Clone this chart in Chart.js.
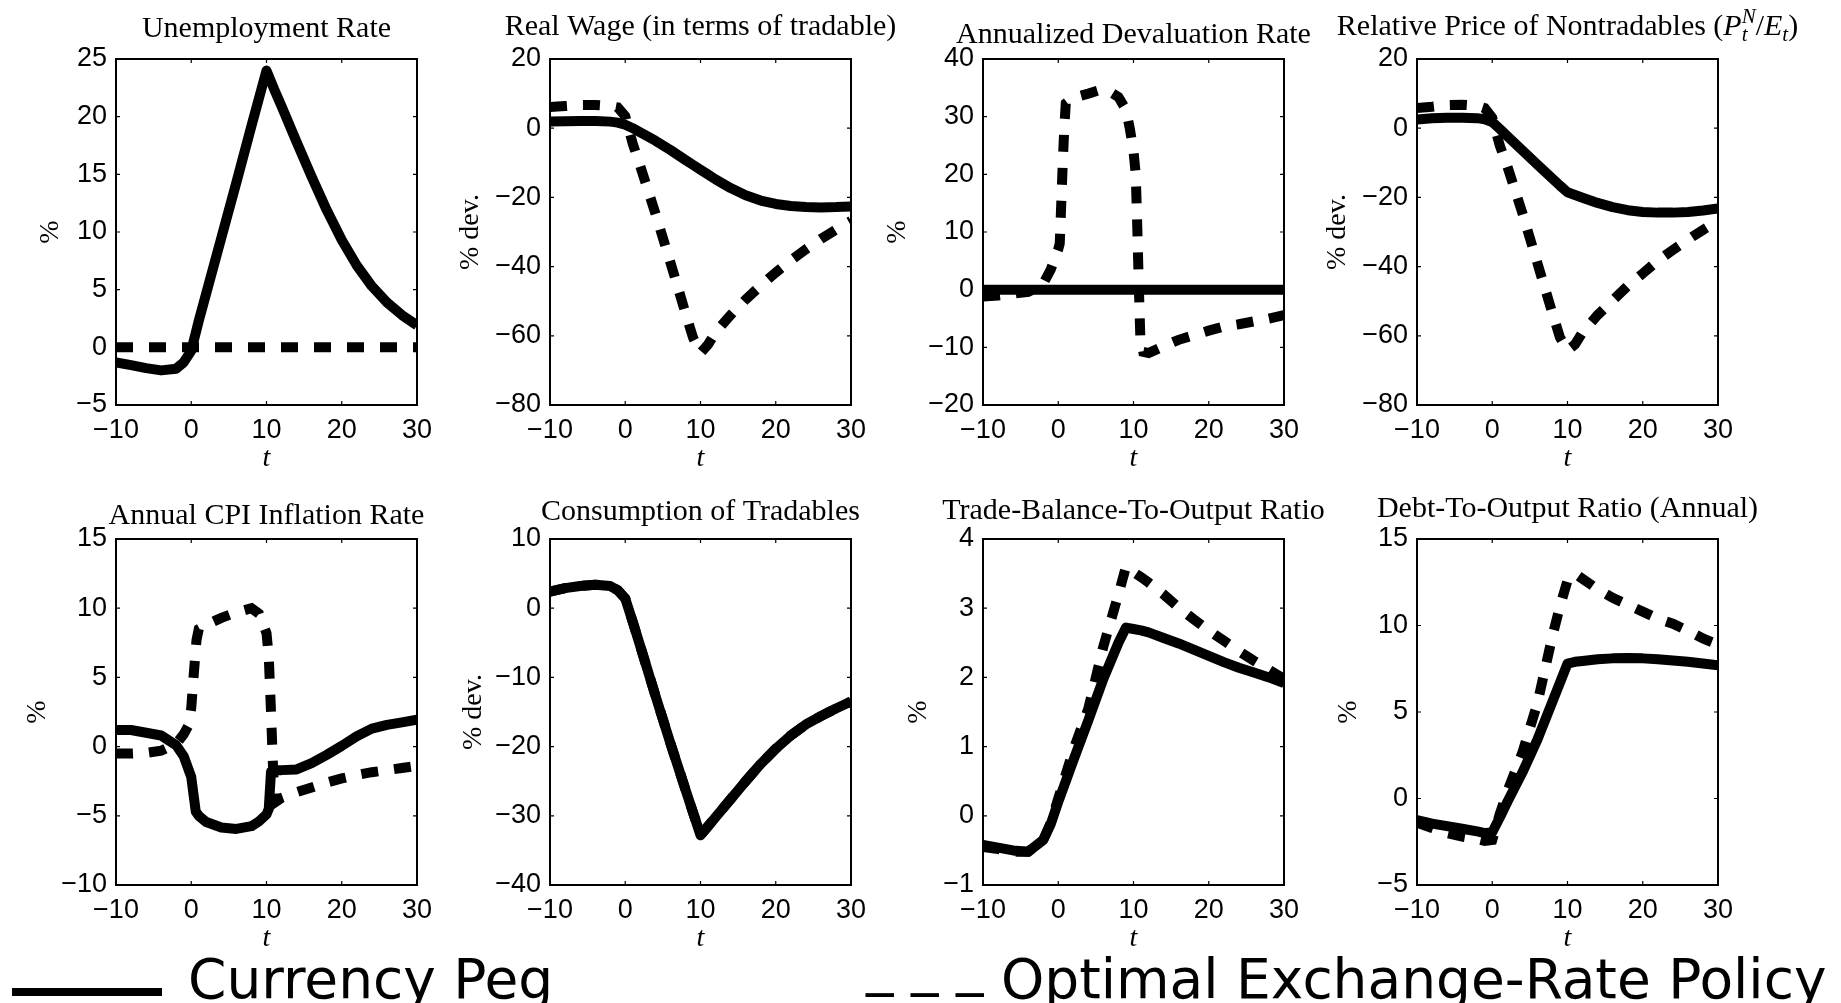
<!DOCTYPE html>
<html>
<head>
<meta charset="utf-8">
<script src="https://cdn.jsdelivr.net/npm/chart.js@4.4.1/dist/chart.umd.min.js"></script>
<style>
html, body { margin: 0; padding: 0; background: #fff; width: 1841px; height: 1003px; overflow: hidden; }
.panel { position: absolute; }
.legend { position: absolute; font-family: "DejaVu Sans"; font-size: 55px; line-height: 54px; color: #000; white-space: nowrap; }
</style>
</head>
<body>

<div style="position:absolute;left:12px;top:988px;width:150px;height:8px;background:#000;"></div>
<div class="legend" style="left:188px;top:952px;">Currency Peg</div>
<div class="legend" style="left:866px;top:952px;"><span style="position:relative;top:-14px;">_ _ _</span> Optimal Exchange-Rate Policy</div>

<script>
// quarters since the shock
var tQ = [-10, -8, -6, -4, -2, -1, 0, 1, 2, 4, 6, 8, 9, 10, 11, 12, 14, 16, 18, 20, 22, 24, 26, 28, 30];

var unempPeg = [-1.3, -1.55, -1.8, -2.0, -1.85, -1.3, -0.3, 2.3, 4.7, 9.5, 14.3, 19.2, 21.6, 24.0, 22.4, 20.9, 17.8, 14.8, 11.9, 9.3, 7.1, 5.3, 3.9, 2.8, 1.9];
var unempOpt = [0, 0, 0, 0, 0, 0, 0, 0, 0, 0, 0, 0, 0, 0, 0, 0, 0, 0, 0, 0, 0, 0, 0, 0, 0];

var wagePeg = [1.9, 2.0, 2.1, 2.1, 1.9, 1.6, 1.0, 0.0, -1.2, -3.6, -6.3, -9.2, -10.6, -12.0, -13.4, -14.8, -17.3, -19.4, -20.9, -21.9, -22.5, -22.8, -22.9, -22.8, -22.6];
var wageOpt = [6.1, 6.4, 6.7, 6.7, 6.4, 6.0, 3.5, -4.5, -11, -24.6, -38.8, -53.4, -60.5, -65, -62.5, -59, -54, -49.5, -45.5, -41.7, -38.2, -35, -32, -29.3, -26.8];

var devalPeg = [0, 0, 0, 0, 0, 0, 0, 0, 0, 0, 0, 0, 0, 0, 0, 0, 0, 0, 0, 0, 0, 0, 0, 0, 0];
var devalOptT = [-10, -8, -6, -4, -2, -1, 0, 0.2, 0.4, 0.6, 0.8, 1, 2, 4, 5.5, 7, 8, 9, 9.5, 10, 10.3, 10.5, 10.7, 10.9, 11.3, 12, 14, 16, 18, 20, 22, 24, 26, 28, 30];
var devalOpt = [-1.2, -1.0, -0.7, -0.4, 1.0, 3.5, 7.0, 8.0, 15, 22, 28, 32.3, 33.3, 34.0, 34.6, 34.2, 33.4, 31.2, 28, 24, 20, 11, 1, -8, -10.8, -11.0, -9.8, -8.7, -7.9, -7.1, -6.4, -6.0, -5.5, -5.0, -4.4];

var priceNPeg = [2.5, 2.9, 3.0, 3.0, 2.9, 2.6, 1.8, -0.2, -2.3, -6.4, -10.5, -14.6, -16.6, -18.5, -19.3, -20.1, -21.6, -22.8, -23.7, -24.2, -24.4, -24.4, -24.2, -23.8, -23.2];
var priceNOpt = [5.8, 6.2, 6.7, 6.8, 6.5, 5.8, 3.0, -5.0, -11.0, -24.5, -39, -53.5, -60.5, -64.2, -62.5, -59, -54, -49.8, -45.6, -42, -38.3, -35.2, -32.2, -29.4, -26.8];

var cpiPegT = [-10, -8, -6, -4, -2, -1, 0, 0.6, 1, 2, 4, 6, 8, 9, 10, 10.3, 10.6, 11, 12, 14, 16, 18, 20, 22, 24, 26, 28, 30];
var cpiPeg = [1.2, 1.2, 1.0, 0.8, 0.1, -0.7, -2.2, -4.7, -5.0, -5.45, -5.85, -5.95, -5.75, -5.4, -4.9, -4.5, -1.8, -1.7, -1.7, -1.65, -1.2, -0.6, 0.05, 0.75, 1.3, 1.57, 1.75, 1.95];
var cpiOptT = [-10, -8, -6, -4, -2, -1, -0.3, 0, 0.3, 0.7, 1, 2, 4, 6, 8, 9, 10, 10.3, 10.6, 10.9, 11.2, 12, 14, 16, 18, 20, 22, 24, 26, 28, 30];
var cpiOpt = [-0.5, -0.5, -0.45, -0.3, 0.2, 0.9, 1.6, 2.8, 5.0, 7.7, 8.5, 8.8, 9.3, 9.7, 10.0, 9.6, 8.2, 6.5, 2.5, -2.0, -4.0, -3.7, -3.3, -2.95, -2.6, -2.3, -2.05, -1.85, -1.7, -1.55, -1.4];

var consT = [2.4, 2.9, 3.2, 3.4, 3.2, 2.6, 1.4, -2.0, -5.5, -12.6, -19.5, -26.2, -29.5, -32.8, -31.5, -30.2, -27.6, -25.0, -22.5, -20.3, -18.4, -16.8, -15.6, -14.5, -13.5];

var tbPeg = [-0.42, -0.46, -0.5, -0.52, -0.35, -0.12, 0.2, 0.5, 0.8, 1.38, 1.98, 2.5, 2.72, 2.7, 2.68, 2.65, 2.57, 2.49, 2.4, 2.31, 2.22, 2.14, 2.07, 2.0, 1.92];
var tbOpt = [-0.45, -0.48, -0.52, -0.52, -0.35, -0.1, 0.25, 0.6, 0.95, 1.55, 2.45, 3.2, 3.6, 3.52, 3.45, 3.37, 3.2, 3.01, 2.84, 2.68, 2.53, 2.38, 2.24, 2.11, 1.98];

var debtPeg = [-1.25, -1.45, -1.6, -1.75, -1.9, -2.0, -1.95, -1.1, -0.2, 1.5, 3.4, 5.6, 6.7, 7.8, 7.9, 7.95, 8.05, 8.1, 8.12, 8.1, 8.05, 7.98, 7.9, 7.8, 7.7];
var debtOpt = [-1.4, -1.7, -2.0, -2.2, -2.35, -2.45, -2.4, -0.9, 0.4, 2.65, 5.5, 9.4, 11.1, 12.6, 13.0, 12.7, 12.1, 11.6, 11.2, 10.8, 10.4, 10.1, 9.7, 9.25, 8.9];

var COLS = [116, 550, 983, 1417];
var ROWS = [59, 539];
var PW = 301, PH = 346;
var PAD_T = 60, XH = 70;
var LW = 10;
var TITLE_SIZE = 30;

function fmt(v) { return String(v).replace('-', '\u2212'); }

// MATLAB style box with inward ticks on all four sides
var boxTicks = {
    id: 'boxTicks',
    beforeDatasetsDraw: function(chart){
        var ctx = chart.ctx, a = chart.chartArea, x = chart.scales.x, y = chart.scales.y;
        ctx.save();
        ctx.strokeStyle = '#000';
        ctx.lineWidth = 2;
        ctx.strokeRect(a.left, a.top, a.right - a.left, a.bottom - a.top);
        ctx.lineWidth = 1.2;
        ctx.beginPath();
        x.ticks.forEach(function(t){
            var px = x.getPixelForValue(t.value);
            ctx.moveTo(px, a.bottom); ctx.lineTo(px, a.bottom - 4);
            ctx.moveTo(px, a.top); ctx.lineTo(px, a.top + 4);
        });
        y.ticks.forEach(function(t){
            var py = y.getPixelForValue(t.value);
            ctx.moveTo(a.left, py); ctx.lineTo(a.left + 4, py);
            ctx.moveTo(a.right, py); ctx.lineTo(a.right - 4, py);
        });
        ctx.stroke();
        ctx.restore();
    }
};

// title with optional italic / sub / superscript pieces
var panelTitle = {
    id: 'panelTitle',
    afterDraw: function(chart, args, o){
        var ctx = chart.ctx, a = chart.chartArea, size = TITLE_SIZE;
        function font(p){ return (p.italic ? 'italic ' : '') + (p.small ? Math.round(size * 0.7) : size) + 'px "Liberation Serif"'; }
        ctx.save();
        ctx.fillStyle = '#000';
        ctx.textBaseline = 'alphabetic';
        var total = 0;
        o.parts.forEach(function(p){
            ctx.font = font(p);
            p.w = ctx.measureText(p.text).width;
            if (p.adv !== false) total += p.w;
        });
        var xx = (a.left + a.right) / 2 - total / 2, yy = a.top - o.gap;
        o.parts.forEach(function(p){
            ctx.font = font(p);
            ctx.fillText(p.text, xx, yy + (p.dy || 0));
            if (p.adv !== false) xx += p.w;
        });
        ctx.restore();
    }
};

function pts(t, v){ return t.map(function(x, i){ return {x: x, y: v[i]}; }); }

function makePanel(p){
    var wrap = document.createElement('div');
    wrap.className = 'panel';
    var cv = document.createElement('canvas');
    var yW = Math.round(p.ylabDist + 16);
    var padR = p.padR || 85;
    cv.width = yW + PW + padR;
    cv.height = PAD_T + PH + XH;
    wrap.appendChild(cv);
    document.body.appendChild(wrap);

    var sets = [];
    if (p.peg) sets.push({data: pts(p.pegT || tQ, p.peg), order: 2, borderDash: [], borderJoinStyle: 'round'});
    if (p.opt) sets.push({data: pts(p.optT || tQ, p.opt), order: 1, borderDash: [17, 16], borderJoinStyle: 'miter'});
    sets.forEach(function(s){
        s.borderColor = '#000'; s.borderWidth = LW; s.pointRadius = 0;
        s.borderCapStyle = 'butt'; s.tension = 0; s.fill = false;
    });

    var chart = new Chart(cv, {
        type: 'line',
        data: {datasets: sets},
        options: {
            responsive: false,
            animation: false,
            devicePixelRatio: 1,
            layout: {padding: {top: PAD_T, right: padR, left: 0, bottom: 0}},
            plugins: {
                legend: {display: false},
                tooltip: {enabled: false},
                panelTitle: {parts: p.title, gap: p.titleGap}
            },
            scales: {
                x: {
                    type: 'linear', min: -10, max: 30,
                    afterFit: function(s){ s.height = XH; },
                    ticks: {stepSize: 10, color: '#000', padding: 9, maxRotation: 0, autoSkip: false,
                            font: {family: 'Liberation Sans', size: 27}, callback: fmt},
                    grid: {display: false, drawTicks: false},
                    border: {display: false},
                    title: {display: true, text: 't', color: '#000', padding: 0,
                            font: {family: 'Liberation Serif', size: 28, style: 'italic'}}
                },
                y: {
                    type: 'linear', min: p.yMin, max: p.yMax,
                    afterFit: function(s){ s.width = yW; },
                    ticks: {stepSize: p.yStep, color: '#000', padding: 9, autoSkip: false,
                            font: {family: 'Liberation Sans', size: 27}, callback: fmt},
                    grid: {display: false, drawTicks: false},
                    border: {display: false},
                    title: {display: true, text: p.ylab, color: '#000', padding: 0,
                            font: {family: 'Liberation Serif', size: 28}}
                }
            }
        },
        plugins: [boxTicks, panelTitle]
    });
    var a = chart.chartArea;
    wrap.style.left = (p.left - a.left) + 'px';
    wrap.style.top = (p.top - a.top) + 'px';
}

var panels = [
    {left: COLS[0], top: ROWS[0], title: [{text: 'Unemployment Rate'}], titleGap: 22, ylab: '%', ylabDist: 66,
     yMin: -5, yMax: 25, yStep: 5, peg: unempPeg, opt: unempOpt},
    {left: COLS[1], top: ROWS[0], title: [{text: 'Real Wage (in terms of tradable)'}], titleGap: 24, ylab: '% dev.', ylabDist: 80,
     yMin: -80, yMax: 20, yStep: 20, peg: wagePeg, opt: wageOpt},
    {left: COLS[2], top: ROWS[0], title: [{text: 'Annualized Devaluation Rate'}], titleGap: 16, ylab: '%', ylabDist: 86,
     yMin: -20, yMax: 40, yStep: 10, peg: devalPeg, opt: devalOpt, optT: devalOptT},
    {left: COLS[3], top: ROWS[0], padR: 115, title: [
        {text: 'Relative Price of Nontradables ('}, {text: 'P', italic: true},
        {text: 't', italic: true, small: true, dy: 6, adv: false}, {text: 'N', italic: true, small: true, dy: -12},
        {text: '/'}, {text: 'E', italic: true}, {text: 't', italic: true, small: true, dy: 6}, {text: ')'}],
     titleGap: 24, ylab: '% dev.', ylabDist: 80,
     yMin: -80, yMax: 20, yStep: 20, peg: priceNPeg, opt: priceNOpt},
    {left: COLS[0], top: ROWS[1], title: [{text: 'Annual CPI Inflation Rate'}], titleGap: 15, ylab: '%', ylabDist: 79,
     yMin: -10, yMax: 15, yStep: 5, peg: cpiPeg, pegT: cpiPegT, opt: cpiOpt, optT: cpiOptT},
    {left: COLS[1], top: ROWS[1], title: [{text: 'Consumption of Tradables'}], titleGap: 19, ylab: '% dev.', ylabDist: 77,
     yMin: -40, yMax: 10, yStep: 10, peg: consT, opt: consT},
    {left: COLS[2], top: ROWS[1], title: [{text: 'Trade-Balance-To-Output Ratio'}], titleGap: 20, ylab: '%', ylabDist: 65,
     yMin: -1, yMax: 4, yStep: 1, peg: tbPeg, opt: tbOpt},
    {left: COLS[3], top: ROWS[1], title: [{text: 'Debt-To-Output Ratio (Annual)'}], titleGap: 22, ylab: '%', ylabDist: 69,
     yMin: -5, yMax: 15, yStep: 5, peg: debtPeg, opt: debtOpt}
];

panels.forEach(makePanel);
</script>
</body>
</html>
